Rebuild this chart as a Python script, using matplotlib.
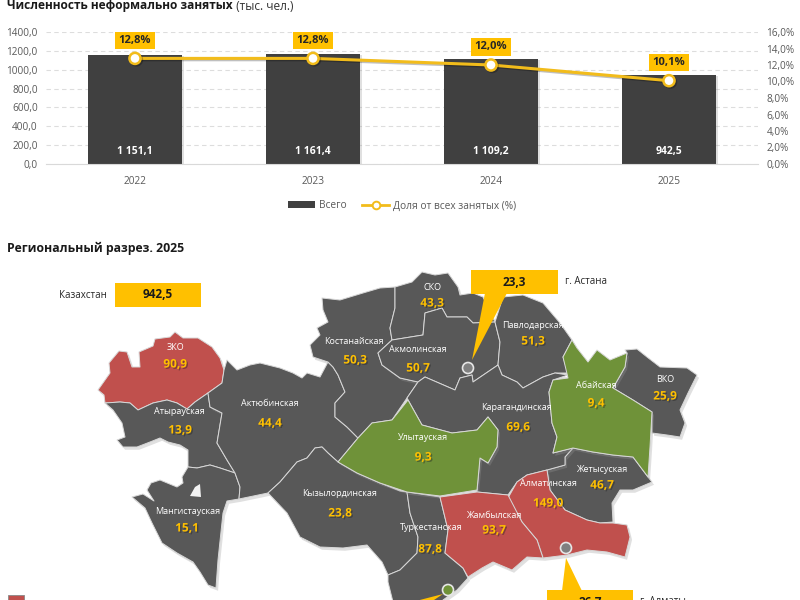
import matplotlib
matplotlib.use("Agg")
import matplotlib.pyplot as plt
import matplotlib.patheffects as pe
from matplotlib.patches import Polygon, Rectangle, Circle

plt.rcParams["font.family"] = ["Open Sans", "DejaVu Sans"]

years = ["2022", "2023", "2024", "2025"]
totals = [1151.1, 1161.4, 1109.2, 942.5]
total_labels = ["1 151,1", "1 161,4", "1 109,2", "942,5"]
shares = [12.8, 12.8, 12.0, 10.1]
share_labels = ["12,8%", "12,8%", "12,0%", "10,1%"]
left_ticks = [0, 200, 400, 600, 800, 1000, 1200, 1400]
left_labels = ["0,0", "200,0", "400,0", "600,0", "800,0", "1000,0", "1200,0", "1400,0"]
right_ticks = [0, 2, 4, 6, 8, 10, 12, 14, 16]
right_labels = ["0,0%", "2,0%", "4,0%", "6,0%", "8,0%", "10,0%", "12,0%", "14,0%", "16,0%"]

region_names = ["ЗКО", "Атырауская", "Мангистауская", "Актюбинская", "Костанайская", "СКО",
                "Акмолинская", "Павлодарская", "Абайская", "ВКО", "Жетысуская", "Алматинская",
                "Жамбылская", "Улытауская", "Карагандинская", "Кызылординская", "Туркестанская"]
region_values = ["90,9", "13,9", "15,1", "44,4", "50,3", "43,3", "50,7", "51,3", "9,4", "25,9",
                 "46,7", "149,0", "93,7", "9,3", "69,6", "23,8", "87,8"]

DARK = "#585858"
RED = "#C0504D"
GREEN = "#6F9239"
YELLOW = "#FFC000"

region_colors = {"ЗКО": RED, "Алматинская": RED, "Жамбылская": RED,
                 "Абайская": GREEN, "Улытауская": GREEN}

# region outlines, in image pixels
outlines = {
    "ЗКО": [(98,390),(110,373),(109,363),(119,351),(127,352),(132,367),(140,367),(139,352),(153,346),
            (155,339),(170,337),(175,332),(183,338),(198,338),(212,347),(220,358),(224,370),(222,383),
            (208,393),(195,402),(187,409),(177,403),(167,400),(153,403),(138,410),(130,403),(120,402),
            (105,403),(104,395)],
    "Атырауская": [(105,403),(120,402),(130,403),(138,410),(153,403),(167,400),(177,403),(187,409),
                   (195,402),(208,393),(210,407),(222,413),(217,443),(227,460),(235,473),(220,468),
                   (210,465),(197,468),(188,467),(188,450),(180,445),(168,442),(160,438),(150,442),
                   (137,447),(123,447),(117,440),(125,437),(122,423),(113,410)],
    "Мангистауская": [(188,467),(197,468),(210,465),(220,468),(235,473),(240,487),(239,499),(227,501),
                      (223,513),(218,560),(216,588),(208,585),(200,572),(193,562),(177,553),(162,543),
                      (152,523),(145,508),(132,497),(143,494),(154,501),(147,490),(151,483),(160,480),
                      (177,487),(183,483),(182,477)],
    "Актюбинская": [(224,370),(227,360),(237,370),(250,365),(260,363),(280,368),(293,373),(302,378),
                    (307,373),(320,377),(328,362),(333,367),(338,375),(345,392),(335,403),(335,417),
                    (347,427),(358,438),(338,462),(328,453),(322,447),(315,448),(307,458),(297,462),
                    (280,482),(268,493),(239,499),(240,487),(235,473),(227,460),(217,443),(222,413),
                    (210,407),(208,393),(222,383)],
    "Костанайская": [(310,345),(320,335),(317,328),(328,322),(323,310),(322,298),(340,300),(363,293),
                     (380,288),(395,287),(395,308),(390,328),(392,340),(378,353),(382,365),(400,378),
                     (418,382),(407,398),(392,420),(372,423),(358,438),(347,427),(335,417),(335,403),
                     (345,392),(338,375),(333,367),(328,362),(313,357)],
    "СКО": [(395,287),(412,282),(422,272),(435,275),(448,273),(458,287),(460,295),(473,293),(483,297),
            (495,322),(473,323),(467,317),(447,317),(442,308),(425,313),(423,335),(392,340),(390,328),
            (395,308)],
    "Акмолинская": [(392,340),(423,335),(425,313),(442,308),(447,317),(467,317),(473,323),(495,322),
                    (500,342),(498,365),(473,382),(472,375),(460,378),(455,390),(425,377),(418,382),
                    (400,378),(382,365),(378,353)],
    "Павлодарская": [(495,322),(503,297),(523,295),(543,303),(560,323),(572,340),(563,357),(568,373),
                     (555,373),(543,377),(523,388),(517,382),(502,375),(498,365),(500,342)],
    "ВКО": [(627,353),(625,350),(637,349),(647,357),(660,367),(687,368),(697,375),(688,393),(680,410),
            (685,423),(680,437),(667,435),(652,433),(652,412),(633,400),(613,388),(625,367)],
    "Жетысуская": [(565,457),(573,448),(593,452),(613,455),(633,457),(648,477),(652,482),(633,490),
                   (620,490),(612,503),(613,522),(600,523),(587,520),(565,510),(550,490),(547,470),
                   (565,465)],
    "Карагандинская": [(407,398),(418,382),(425,377),(455,390),(460,378),(472,375),(473,382),(498,365),
                       (502,375),(517,382),(523,388),(543,377),(555,373),(568,375),(553,380),(549,392),
                       (552,423),(557,437),(553,453),(573,448),(565,457),(565,465),(547,470),(527,475),
                       (517,482),(508,495),(477,492),(480,458),(488,463),(497,447),(498,430),(488,417),
                       (477,430),(452,433),(422,425)],
    "Кызылординская": [(268,493),(280,482),(297,462),(307,458),(315,448),(322,447),(328,453),(338,462),
                       (357,473),(380,483),(400,491),(407,492),(410,513),(418,537),(417,553),(400,570),
                       (388,575),(382,562),(367,545),(343,548),(320,547),(300,537),(287,513)],
    "Туркестанская": [(407,492),(440,497),(448,530),(445,553),(463,568),(468,578),(457,590),(443,600),
                      (440,610),(395,610),(388,582),(388,575),(400,570),(417,553),(418,537),(410,513)],
    "Абайская": [(572,340),(577,348),(588,362),(597,350),(610,360),(627,353),(625,367),(613,388),
                 (633,400),(652,412),(650,447),(648,477),(633,457),(613,455),(593,452),(573,448),
                 (553,453),(557,437),(552,423),(549,392),(553,380),(568,378),(563,357)],
    "Улытауская": [(358,438),(372,423),(392,420),(408,400),(422,425),(452,433),(477,430),(488,417),
                   (498,430),(497,447),(488,463),(480,458),(477,490),(440,496),(407,492),(380,483),
                   (357,473),(338,462)],
    "Алматинская": [(547,470),(550,490),(565,510),(587,520),(600,523),(613,523),(627,525),(630,537),
                    (625,557),(607,552),(587,550),(567,555),(543,558),(537,540),(522,522),(508,498),
                    (517,482),(527,475)],
    "Жамбылская": [(440,497),(477,492),(508,495),(522,522),(537,540),(543,558),(527,557),(512,570),
                   (493,562),(482,568),(468,577),(463,568),(445,553),(448,530)],
}
bay = [(190,496),(195,487),(200,484),(201,497)]

name_pos = {"ЗКО": (175,348), "Атырауская": (179,412), "Мангистауская": (188,512), "Актюбинская": (270,403),
            "Костанайская": (354,341), "СКО": (432,287), "Акмолинская": (418,349), "Павлодарская": (533,326),
            "Абайская": (596,385), "ВКО": (665,379), "Жетысуская": (602,469), "Алматинская": (548,484),
            "Жамбылская": (494,515), "Улытауская": (423,437), "Карагандинская": (517,408),
            "Кызылординская": (340,494), "Туркестанская": (431,527)}
value_pos = {"ЗКО": (175,364), "Атырауская": (180,430), "Мангистауская": (187,528), "Актюбинская": (270,423),
             "Костанайская": (355,360), "СКО": (432,303), "Акмолинская": (418,368), "Павлодарская": (533,341),
             "Абайская": (596,403), "ВКО": (665,396), "Жетысуская": (602,485), "Алматинская": (548,503),
             "Жамбылская": (494,530), "Улытауская": (423,457), "Карагандинская": (518,427),
             "Кызылординская": (340,513), "Туркестанская": (430,549)}


def draw_chart(fig):
    ax = fig.add_axes([46 / 800, 1 - 164 / 600, 712 / 800, 132 / 600])
    x = range(len(years))
    bars = ax.bar(x, totals, width=0.53, color="#404040", zorder=2, label="Всего")
    for b in bars:
        b.set_path_effects([pe.SimplePatchShadow(offset=(1.5, -0.5), shadow_rgbFace="#999999", alpha=0.3), pe.Normal()])
    ax.set_xlim(-0.5, 3.5)
    ax.set_ylim(0, 1400)
    ax.set_xticks(list(x))
    ax.set_xticklabels(years, fontsize=7.3, color="#595959")
    ax.set_yticks(left_ticks)
    ax.set_yticklabels(left_labels, fontsize=7.2, color="#595959")
    ax.tick_params(length=0)
    ax.tick_params(axis="x", pad=9)
    ax.tick_params(axis="y", pad=6)
    ax.grid(True, axis="y", ls=(0, (4, 3)), color="#DDDDDD", lw=0.8, zorder=0)
    for s in ["top", "left", "right"]:
        ax.spines[s].set_visible(False)
    ax.spines["bottom"].set_color("#D9D9D9")
    for i, lab in enumerate(total_labels):
        ax.annotate(lab, (i, 0), xytext=(0, 9), textcoords="offset points", ha="center", va="center",
                    color="white", fontsize=7.5, fontweight="bold", zorder=5)

    ax2 = ax.twinx()
    line, = ax2.plot(list(x), shares, color="#F2BC1B", lw=2.2, marker="o", ms=8, mfc="white", mec="#F2BC1B",
                     mew=1.8, label="Доля от всех занятых (%)", zorder=4)
    line.set_path_effects([pe.SimpleLineShadow(offset=(1, -1), alpha=0.25), pe.Normal()])
    ax2.set_ylim(0, 16)
    ax2.set_yticks(right_ticks)
    ax2.set_yticklabels(right_labels, fontsize=7.2, color="#595959")
    ax2.tick_params(length=0, pad=6)
    for s in ax2.spines.values():
        s.set_visible(False)
    for i, lab in enumerate(share_labels):
        ax2.annotate(lab, (i, shares[i]), xytext=(0, 13), textcoords="offset points", ha="center", va="center",
                     fontsize=8, fontweight="bold", color="#262626", zorder=6,
                     bbox=dict(boxstyle="square,pad=0.3", fc=YELLOW, ec="none"))

    leg_line = plt.Line2D([], [], color="#F2BC1B", lw=2, marker="o", ms=5.5, mfc="white", mec="#F2BC1B", mew=1.4)
    leg_bar = Rectangle((0, 0), 1, 1, fc="#404040")
    fig.legend([leg_bar, leg_line], ["Всего", "Доля от всех занятых (%)"], ncol=2, frameon=False, fontsize=7.3,
               labelcolor="#595959", loc="center", bbox_to_anchor=(402 / 800, 1 - 206 / 600),
               handlelength=2.7, handletextpad=0.4, columnspacing=1.5)


def draw_map(fig):
    mp = fig.add_axes([0, 0, 1, 1], zorder=-1)
    mp.set_xlim(0, 800)
    mp.set_ylim(600, 0)
    mp.axis("off")

    t = mp.text(7, 6, "Численность неформально занятых", fontsize=8.6, fontweight="bold", color="#1a1a1a", va="center")
    mp.annotate(" (тыс. чел.)", xy=(1, 0), xycoords=t, va="bottom", fontsize=8.6, color="#333333")
    mp.text(7, 248, "Региональный разрез. 2025", fontsize=8.8, fontweight="bold", color="#1a1a1a", va="center")

    shadow = [pe.SimplePatchShadow(offset=(1.5, -2), shadow_rgbFace="#999999", alpha=0.3), pe.Normal()]
    for name in outlines:
        p = Polygon(outlines[name], closed=True, fc=region_colors.get(name, DARK), ec="#D8D8D8", lw=0.7,
                    joinstyle="round", zorder=2)
        p.set_path_effects(shadow)
        mp.add_patch(p)
    mp.add_patch(Polygon(bay, closed=True, fc="#F2F2F2", ec="none", zorder=3))

    for name, val in zip(region_names, region_values):
        nx, ny = name_pos[name]
        vx, vy = value_pos[name]
        mp.text(nx, ny, name, color="white", fontsize=6.5, ha="center", va="center", zorder=6)
        txt = mp.text(vx, vy, val, color=YELLOW, fontsize=8.5, fontweight="bold", ha="center", va="center", zorder=6)
        txt.set_path_effects([pe.withSimplePatchShadow(offset=(1, -1), shadow_rgbFace="#222222", alpha=0.4)])

    # callouts
    mp.add_patch(Rectangle((115, 283), 86, 24, fc=YELLOW, ec="none", zorder=7))
    mp.text(158, 295, "942,5", fontsize=8.5, fontweight="bold", color="#1a1a1a", ha="center", va="center", zorder=8)
    mp.text(59, 295, "Казахстан", fontsize=7, color="#262626", va="center")

    mp.add_patch(Rectangle((471, 270), 87, 24, fc=YELLOW, ec="none", zorder=7))
    mp.add_patch(Polygon([(472, 360), (485, 293), (507, 293)], fc=YELLOW, ec="none", zorder=7))
    mp.text(514, 282, "23,3", fontsize=8.5, fontweight="bold", color="#1a1a1a", ha="center", va="center", zorder=8)
    mp.text(565, 282, "г. Астана", fontsize=7, color="#262626", va="center")
    mp.add_patch(Circle((468, 368), 5.5, fc="#808080", ec="#E6E6E6", lw=1.2, zorder=8))

    mp.add_patch(Rectangle((547, 590), 86, 24, fc=YELLOW, ec="none", zorder=7))
    mp.add_patch(Polygon([(566, 558), (562, 591), (582, 591)], fc=YELLOW, ec="none", zorder=7))
    mp.text(590, 602, "26,7", fontsize=8.5, fontweight="bold", color="#1a1a1a", ha="center", va="center", zorder=8)
    mp.text(640, 602, "г. Алматы", fontsize=7, color="#262626", va="center")
    mp.add_patch(Circle((566, 548), 5.5, fc="#808080", ec="#E6E6E6", lw=1.2, zorder=8))

    mp.add_patch(Polygon([(443, 594), (412, 602), (425, 606)], fc=YELLOW, ec="none", zorder=7))
    mp.add_patch(Circle((448, 590), 5.5, fc=GREEN, ec="#E6E6E6", lw=1.2, zorder=8))

    # legend square, cut by the image edge
    mp.add_patch(Rectangle((8, 595), 16, 10, fc=RED, ec="#888888", lw=0.6, zorder=7))


def main():
    fig = plt.figure(figsize=(8, 6), dpi=100)
    draw_map(fig)
    draw_chart(fig)
    fig.savefig("out.png", dpi=100)


if __name__ == '__main__':
    main()
